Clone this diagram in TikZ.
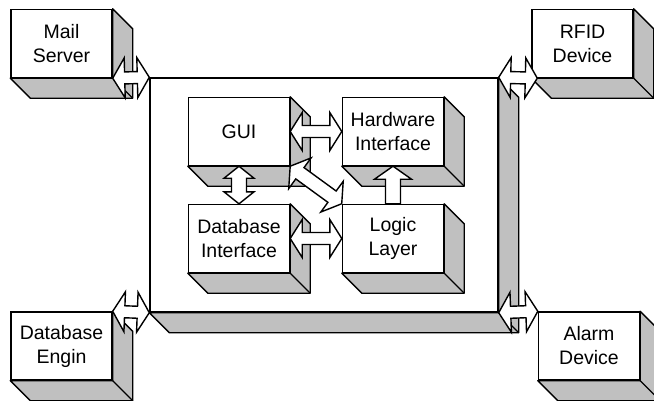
\documentclass[tikz,border=0pt]{standalone}
\usepackage{fontspec}
\setmainfont{Liberation Sans}
\usetikzlibrary{positioning,calc}
\definecolor{sysgrey}{HTML}{C0C0C0}
\tikzset{
  cubeface/.style ={draw, fill=white, line width=1.4pt, minimum width=101pt,
                    minimum height=68pt, inner sep=0pt, align=center,
                    font=\fontsize{19.5}{24}\selectfont},
  mainface/.style ={cubeface, minimum width=348pt, minimum height=234pt},
  shadeface/.style={draw, fill=sysgrey, line width=1.4pt, line join=round},
  hollowarr/.style={draw, fill=white, line width=1.4pt, line join=miter},
}
\newcommand{\extrude}[1]{%
  \draw[shadeface] (#1.north east) -- ++(20,20) -- ($(#1.south east)+(20,20)$)
    -- ($(#1.south west)+(20,20)$) -- (#1.south west) -- (#1.south east) -- cycle;
  \draw[shadeface] (#1.south east) -- ++(20,20);}
% from, to, head length, half head, half shaft
\newcommand{\dblarrow}[5]{%
  \path[hollowarr] let \p1=(#1), \p2=(#2), \n1={atan2(\y2-\y1,\x2-\x1)},
    \n2={veclen(\x2-\x1,\y2-\y1)} in
    {[shift={(\p1)}, rotate=\n1] (0,0) -- (#3,#4) -- (#3,#5) -- ({\n2-#3},#5)
    -- ({\n2-#3},#4) -- (\n2,0) -- ({\n2-#3},-#4) -- ({\n2-#3},-#5)
    -- (#3,-#5) -- (#3,-#4) -- cycle};}
\newcommand{\sglarrow}[5]{%
  \path[hollowarr] let \p1=(#1), \p2=(#2), \n1={atan2(\y2-\y1,\x2-\x1)},
    \n2={veclen(\x2-\x1,\y2-\y1)} in
    {[shift={(\p1)}, rotate=\n1] (0,#5) -- ({\n2-#3},#5) -- ({\n2-#3},#4)
    -- (\n2,0) -- ({\n2-#3},-#4) -- ({\n2-#3},-#5) -- (0,-#5) -- cycle};}

\begin{document}
\begin{tikzpicture}[x=1pt, y=-1pt]
  \useasboundingbox (0,0) rectangle (654,400);
  \clip (0,0) rectangle (654,400);

  \node[mainface] (sys) at (324,195) {};

  \node[cubeface] (mail)  at (61.5,43.5)  {Mail\\Server};
  \node[cubeface] (rfid)  at (582.5,43.5) {RFID\\Device};
  \node[cubeface] (dbeng) at (61.5,346)   {Database\\Engin};
  \node[cubeface] (alarm) at (589,346)    {Alarm\\Device};

  \node[cubeface] (gui)   at (239,131.5) {GUI};
  \node[cubeface] (hw)    at (393,131.5) {Hardware\\Interface};
  \node[cubeface] (dbi)   at (239,238.5) {Database\\Interface};
  \node[cubeface] (logic) at (393,238.5) {Logic\\Layer};

  \foreach \b in {sys,mail,rfid,dbeng,alarm,gui,hw,dbi,logic}
    {\extrude{\b}}

  \dblarrow{gui.east}{hw.west}{12}{19}{6}
  \dblarrow{dbi.east}{logic.west}{12}{19}{6}
  \dblarrow{gui.south}{dbi.north}{12}{15}{7.5}
  \dblarrow{gui.south east}{logic.north west}{12}{19}{7}
  \sglarrow{logic.north}{hw.south}{13}{18.5}{7.5}

  \dblarrow{mail.south east}{sys.north west}{12}{20}{6}
  \dblarrow{sys.north east}{$(rfid.south west)+(6,0)$}{12}{20}{6}
  \dblarrow{dbeng.north east}{sys.south west}{12}{20}{6}
  \dblarrow{sys.south east}{alarm.north west}{12}{20}{6}

\end{tikzpicture}
\end{document}
